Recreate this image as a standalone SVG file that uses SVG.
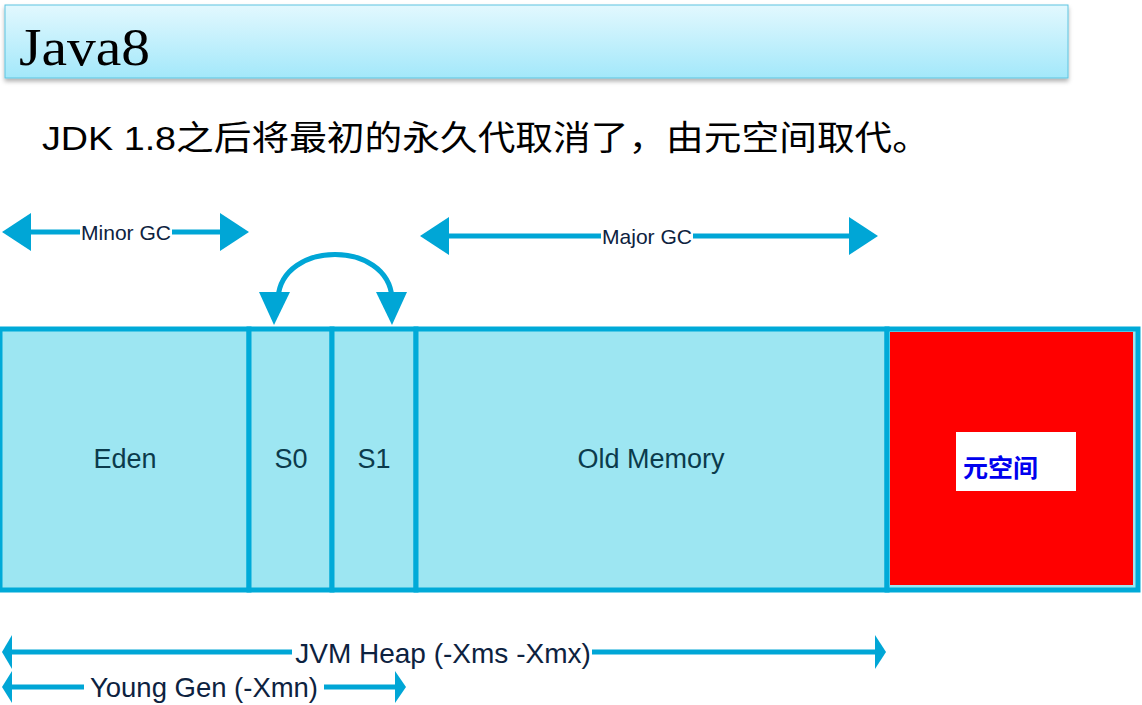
<svg xmlns="http://www.w3.org/2000/svg" width="1142" height="705" viewBox="0 0 1142 705">
<defs>
<linearGradient id="tg" x1="0" y1="0" x2="0" y2="1">
<stop offset="0" stop-color="#e2f8fe"/>
<stop offset="1" stop-color="#a3e8fa"/>
</linearGradient>
<filter id="sh" x="-5%" y="-20%" width="110%" height="150%">
<feDropShadow dx="0" dy="3" stdDeviation="2" flood-color="#000" flood-opacity="0.3"/>
</filter>
<style>
.cell{fill:#9de6f2;stroke:#00aad8;stroke-width:5}
.lbl{font-family:"Liberation Sans",Arial,sans-serif;font-size:27px;fill:#0b3b4c;text-anchor:middle}
.glbl{font-family:"Liberation Sans",Arial,sans-serif;font-size:21px;fill:#0d2240;text-anchor:middle}
.blbl{font-family:"Liberation Sans",Arial,sans-serif;font-size:28px;fill:#0d2240;text-anchor:middle}
.ln{stroke:#00a6d6;stroke-width:5;fill:none}
.ah{fill:#00a6d6}
</style>
</defs>
<g id="title">
<rect x="5" y="5" width="1063" height="73" fill="url(#tg)" stroke="#5cc4e0" stroke-width="1" filter="url(#sh)"/>
<text x="19" y="65" font-family="Liberation Serif,serif" font-size="52" fill="#000" textLength="131" lengthAdjust="spacingAndGlyphs">Java8</text>
</g>
<g id="subtitle">
<text x="42" y="150" font-family="Liberation Sans,'Noto Sans CJK SC',sans-serif" font-size="34" fill="#000" textLength="888" lengthAdjust="spacingAndGlyphs">JDK 1.8之后将最初的永久代取消了，由元空间取代。</text>
</g>
<g id="connectors">
<g id="minor-gc">
<line class="ln" x1="28" y1="232" x2="222" y2="232"/>
<polygon class="ah" points="2,232 31,213 31,251"/>
<polygon class="ah" points="249,232 220,213 220,251"/>
<rect x="80" y="220" width="92" height="26" fill="#fff"/>
<text class="glbl" x="126" y="240" textLength="90" lengthAdjust="spacingAndGlyphs">Minor GC</text>
</g>
<g id="major-gc">
<line class="ln" x1="445" y1="236" x2="852" y2="236"/>
<polygon class="ah" points="420,236 449,217 449,255"/>
<polygon class="ah" points="878,236 849,217 849,255"/>
<rect x="601" y="224" width="92" height="26" fill="#fff"/>
<text class="glbl" x="647" y="244" textLength="90" lengthAdjust="spacingAndGlyphs">Major GC</text>
</g>
<g id="survivor-swap">
<path class="ln" d="M278,298 C282,240 388,240 392,298"/>
<polygon class="ah" points="259,292 290,292 274,325"/>
<polygon class="ah" points="376,292 407,292 392,325"/>
</g>
<g id="jvm-heap">
<line class="ln" x1="8" y1="652" x2="880" y2="652"/>
<polygon class="ah" points="2,652 12,635 12,669"/>
<polygon class="ah" points="886,652 875,635 875,669"/>
<rect x="292" y="632" width="300" height="40" fill="#fff"/>
<text class="blbl" x="443" y="663">JVM Heap (-Xms -Xmx)</text>
</g>
<g id="young-gen">
<line class="ln" x1="8" y1="687" x2="400" y2="687"/>
<polygon class="ah" points="2,687 12,671 12,703"/>
<polygon class="ah" points="406,687 395,671 395,703"/>
<rect x="84" y="668" width="240" height="36" fill="#fff"/>
<text class="blbl" x="204" y="697" textLength="228" lengthAdjust="spacingAndGlyphs">Young Gen (-Xmn)</text>
</g>
</g>
<g id="eden">
<rect class="cell" x="0" y="329" width="249" height="261"/>
<text class="lbl" x="125" y="468">Eden</text>
</g>
<g id="s0">
<rect class="cell" x="249" y="329" width="83" height="261"/>
<text class="lbl" x="291" y="468">S0</text>
</g>
<g id="s1">
<rect class="cell" x="332" y="329" width="84" height="261"/>
<text class="lbl" x="374" y="468">S1</text>
</g>
<g id="old">
<rect class="cell" x="416" y="329" width="471" height="261"/>
<text class="lbl" x="651" y="468" textLength="147" lengthAdjust="spacingAndGlyphs">Old Memory</text>
</g>
<g id="metaspace">
<rect class="cell" x="887" y="329" width="251" height="261"/>
<rect x="890" y="332" width="243" height="253" fill="#ff0000"/>
<rect x="956" y="432" width="120" height="59" fill="#fff"/>
<text x="963" y="477" font-family="'Noto Sans CJK SC',sans-serif" font-size="25" font-weight="bold" fill="#0000ee">元空间</text>
</g>
</svg>
